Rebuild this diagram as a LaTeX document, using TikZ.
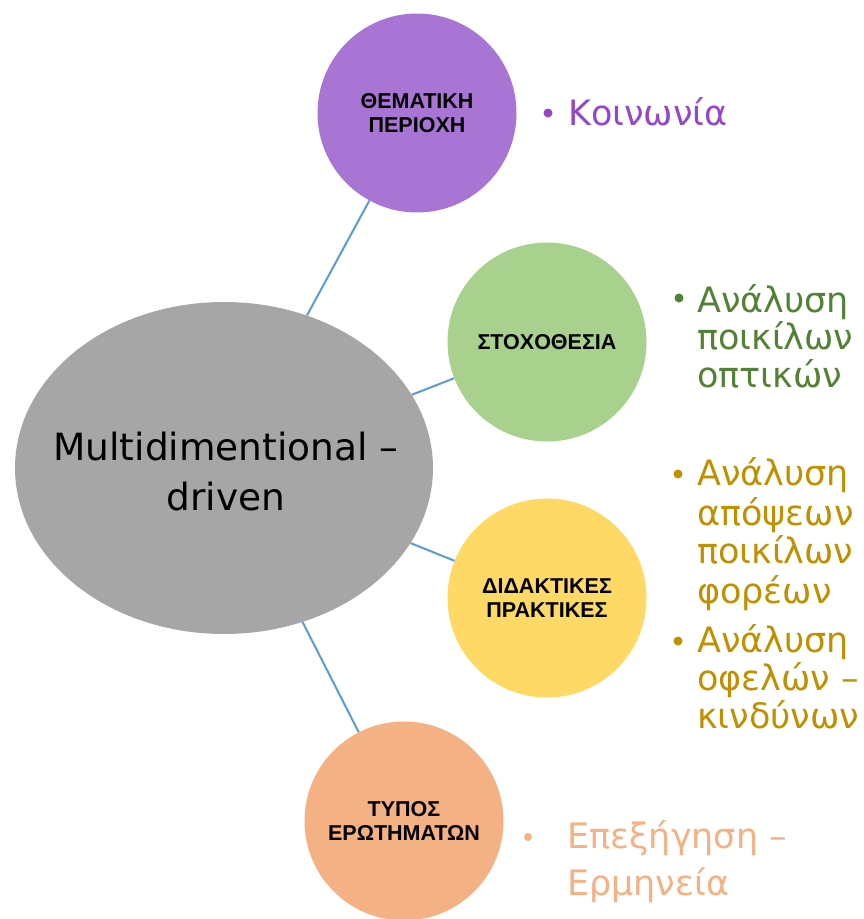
\documentclass[tikz,border=0pt]{standalone}
\usepackage{fontspec}
\setmainfont{DejaVu Sans}
\newfontfamily\labelfont{Liberation Sans}
\usetikzlibrary{shapes.geometric}

\definecolor{hubgray}{HTML}{A6A6A6}
\definecolor{linkblue}{HTML}{5B9BD5}
\definecolor{purplefill}{HTML}{A975D4}
\definecolor{purpletext}{HTML}{9448C6}
\definecolor{greenfill}{HTML}{A9D18E}
\definecolor{greentext}{HTML}{548235}
\definecolor{yellowfill}{HTML}{FFD966}
\definecolor{yellowtext}{HTML}{BF9000}
\definecolor{orangefill}{HTML}{F4B183}
\definecolor{orangetext}{HTML}{F4B183}

\begin{document}
\begin{tikzpicture}[x=1pt, y=-1pt,
  hub/.style={ellipse, fill=hubgray, minimum width=418pt, minimum height=332pt, inner sep=0pt},
  hubtext/.style={align=center, inner sep=0pt, font=\fontsize{37.5}{50}\selectfont, text=black},
  topic/.style={circle, minimum size=199pt, inner sep=0pt, align=center,
    font=\labelfont\bfseries\fontsize{21.5}{23.5}\selectfont, text=black},
  link/.style={draw=linkblue, line width=2pt},
  item/.style={anchor=base west, inner sep=0pt, font=\fontsize{35}{38}\selectfont},
  dot/.style={circle, inner sep=0pt, minimum size=9pt}]

  \useasboundingbox (0,0) rectangle (863,919);

  % central ellipse and its caption
  \node[hub] (hub) at (224,468) {};
  \node[hubtext] (hublabel) at (226,472) {Multidimentional –\\driven};

  % the four topic circles
  \node[topic, fill=purplefill] (theme) at (417,113) {ΘΕΜΑΤΙΚΗ\\ΠΕΡΙΟΧΗ};
  \node[topic, fill=greenfill]  (goal)  at (547,342) {ΣΤΟΧΟΘΕΣΙΑ};
  \node[topic, fill=yellowfill] (prac)  at (547,598) {ΔΙΔΑΚΤΙΚΕΣ\\ΠΡΑΚΤΙΚΕΣ};
  \node[topic, fill=orangefill] (quest) at (404,821) {ΤΥΠΟΣ\\ΕΡΩΤΗΜΑΤΩΝ};

  % connectors from the hub
  \draw[link] (hub) -- (theme);
  \draw[link] (hub) -- (goal);
  \draw[link] (hub) -- (prac);
  \draw[link] (hub) -- (quest);

  % bullet list: theme
  \node[dot, fill=purpletext] (b1) at (548,113) {};
  \node[item, text=purpletext] (t1) at (568,125) {Κοινωνία};

  % bullet list: goals
  \node[dot, fill=greentext] (b2) at (679,298) {};
  \node[item, text=greentext] (t2a) at (697,312) {Ανάλυση};
  \node[item, text=greentext] (t2b) at (697,349) {ποικίλων};
  \node[item, text=greentext] (t2c) at (697,387) {οπτικών};

  % bullet list: teaching practices
  \node[dot, fill=yellowtext] (b3) at (678,474) {};
  \node[item, text=yellowtext] (t3a) at (697,485) {Ανάλυση};
  \node[item, text=yellowtext] (t3b) at (697,525) {απόψεων};
  \node[item, text=yellowtext] (t3c) at (697,563) {ποικίλων};
  \node[item, text=yellowtext] (t3d) at (697,603) {φορέων};
  \node[dot, fill=yellowtext] (b4) at (678,641) {};
  \node[item, text=yellowtext] (t4a) at (697,652) {Ανάλυση};
  \node[item, text=yellowtext] (t4b) at (697,690) {οφελών –};
  \node[item, text=yellowtext] (t4c) at (697,728) {κινδύνων};

  % bullet list: question types
  \node[dot, fill=orangetext, minimum size=8pt] (b5) at (528,837) {};
  \node[item, text=orangetext] (t5a) at (567,848) {Επεξήγηση –};
  \node[item, text=orangetext] (t5b) at (567,895) {Ερμηνεία};
\end{tikzpicture}
\end{document}
